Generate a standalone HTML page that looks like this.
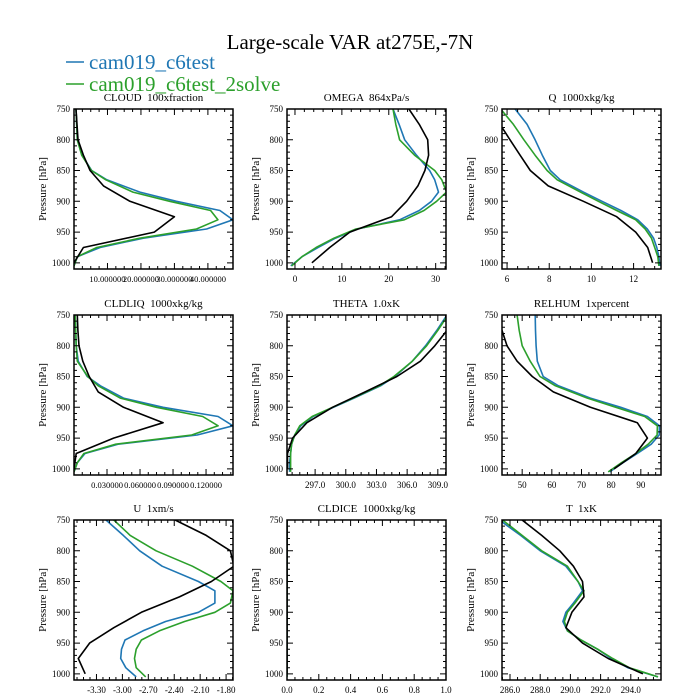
<!DOCTYPE html>
<html><head><meta charset="utf-8"><style>
html,body{margin:0;padding:0;background:#fff;}
svg{display:block;font-family:"Liberation Serif",serif;}
text{white-space:pre;}
</style></head><body>
<svg id="fig" width="700" height="700" viewBox="0 0 700 700" xmlns="http://www.w3.org/2000/svg">
<rect x="0" y="0" width="700" height="700" fill="#fff"/>
<text x="350" y="49" font-size="21" text-anchor="middle">Large-scale VAR at275E,-7N</text>
<g>
<line x1="66" y1="62" x2="84" y2="62" stroke="#1f77b4" stroke-width="1.5"/>
<text x="89" y="69" font-size="21" fill="#1f77b4">cam019_c6test</text>
<line x1="66" y1="84" x2="84" y2="84" stroke="#2ca02c" stroke-width="1.5"/>
<text x="89" y="91" font-size="21" fill="#2ca02c">cam019_c6test_2solve</text>
</g>
</svg>
<script>
const Pm = [750,775,800,825,850,865,885,900,915,930,945,960,975,990,1005];
const Po = [750,775,800,825,850,875,900,925,950,975,1000];

const cloudBlue = [0.6,0.8,1.0,2.4,5.3,9.8,19.7,30.6,43.6,47.5,39.6,20.7,7.8,1.0,0];
const cloudGreen = [0.6,0.8,1.0,2.3,5.2,9.5,17.6,28.6,40.8,43,36.6,19.7,6.8,1.0,0];
const cloudBlack = [0.6,0.9,1.2,2.8,4.8,8.8,16.7,30,24,2.8,0];

const omegaBlue = [20.9,22.2,23.4,25.9,28.7,29.8,30.6,29.1,26.5,22.3,13.3,8.6,4.9,1.5,-0.9];
const omegaGreen = [20.9,21.5,22.3,25.5,29.8,31.3,32.3,30.2,27.5,23.3,13,8.3,4.5,1.5,-0.7];
const omegaBlack = [24.3,26.5,28.3,28.5,27.7,26.2,23.8,20.6,11.7,7.4,3.6];

const qBlue = [6.38,6.95,7.33,7.67,8.05,8.52,9.62,10.5,11.4,12.2,12.65,12.95,13.1,13.2,13.25];
const qGreen = [5.7,6.3,6.8,7.33,7.9,8.38,9.48,10.33,11.2,12.1,12.55,12.85,13.0,13.15,13.2];
const qBlack = [5.2,5.67,6.14,6.62,7.1,7.95,9.62,11.2,12.1,12.67,12.9];

const liqBlue = [0.001,0.0015,0.002,0.0038,0.012,0.024,0.045,0.081,0.131,0.1445,0.112,0.04,0.01,0.003,0];
const liqGreen = [0.001,0.0015,0.002,0.003,0.0125,0.022,0.042,0.075,0.117,0.131,0.107,0.038,0.009,0.003,0];
const liqBlack = [0.003,0.0035,0.0045,0.008,0.0138,0.022,0.045,0.081,0.036,0.002,0];

const thetaBlue = [309.9,308.9,307.8,306.5,304.8,303.4,300.8,298.8,296.8,295.6,295,294.7,294.6,294.5,294.5];
const thetaGreen = [310,309,307.9,306.5,304.7,303.3,300.7,298.7,296.7,295.5,295,294.7,294.6,294.6,294.6];
const thetaBlack = [311,309.9,308.7,307.3,305,301.9,298.7,296.2,294.8,294.3,294.3];

const rhBlue = [54.4,54.5,54.7,55.1,57.1,62.2,73,83.2,92.2,96.3,96.2,93.5,88.8,84,79.5];
const rhGreen = [48.3,49,50,52.7,56,61.2,72,81.5,91.3,95.6,95.5,92.5,88.3,83.5,79];
const rhBlack = [40,43.2,44.9,48.3,53.4,60.5,73,88.8,92.2,88.3,81];

const uBlue = [-3.19,-2.99,-2.80,-2.54,-2.12,-1.93,-1.93,-2.12,-2.50,-2.76,-2.97,-3.01,-3.02,-2.96,-2.84];
const uGreen = [-3.10,-2.91,-2.61,-2.19,-1.86,-1.72,-1.75,-1.93,-2.28,-2.57,-2.78,-2.84,-2.86,-2.84,-2.73];
const uBlack = [-2.39,-2.03,-1.75,-1.71,-1.97,-2.34,-2.78,-3.10,-3.38,-3.51,-3.43];

const iceBlue = [0,0,0,0,0,0,0,0,0,0,0,0,0,0,0];
const iceGreen = [0,0,0,0,0,0,0,0,0,0,0,0,0,0,0];
const iceBlack = [0,0,0,0,0,0,0,0,0,0,0];

const tBlue = [285.3,286.7,288,289.7,290.5,290.8,290.2,289.7,289.5,289.8,290.7,291.8,292.7,293.8,295.8];
const tGreen = [285.5,286.8,288.1,289.8,290.5,290.9,290.3,289.8,289.6,289.8,290.7,291.8,292.8,293.9,295.8];
const tBlack = [286.8,288.1,289.3,290.2,290.8,290.9,290.1,289.7,290.8,292.5,294.8];

const cloudTicks = [10,20,30,40];
const cloudTickLabels = ["10.000000","20.000000","30.000000","40.000000"];
const omegaTicks = [0,10,20,30];
const omegaTickLabels = ["0","10","20","30"];
const qTicks = [6,8,10,12];
const qTickLabels = ["6","8","10","12"];
const liqTicks = [0.03,0.06,0.09,0.12];
const liqTickLabels = ["0.030000","0.060000","0.090000","0.120000"];
const thetaTicks = [297,300,303,306,309];
const thetaTickLabels = ["297.0","300.0","303.0","306.0","309.0"];
const rhTicks = [50,60,70,80,90];
const rhTickLabels = ["50","60","70","80","90"];
const uTicks = [-3.3,-3.0,-2.7,-2.4,-2.1,-1.8];
const uTickLabels = ["-3.30","-3.00","-2.70","-2.40","-2.10","-1.80"];
const iceTicks = [0,0.2,0.4,0.6,0.8,1.0];
const iceTickLabels = ["0.0","0.2","0.4","0.6","0.8","1.0"];
const tTicks = [286,288,290,292,294];
const tTickLabels = ["286.0","288.0","290.0","292.0","294.0"];
const pTicks = [750,800,850,900,950,1000];

const NS = "http://www.w3.org/2000/svg";
const svg = document.getElementById("fig");
function mk(tag, attrs, parent){
  const e = document.createElementNS(NS, tag);
  for (const k in attrs) e.setAttribute(k, attrs[k]);
  (parent||svg).appendChild(e);
  return e;
}
const colX = [74, 287, 502];
const rowY = [109, 315, 520];
const W = 159, H = 160;
const PMIN = 750, PMAX = 1010;

const panels = [
 {id:"cloud", title:"CLOUD  100xfraction", r:0, c:0, xmin:0, xmax:47.5, ticks:cloudTicks, labels:cloudTickLabels, minor:2.5, b:cloudBlue, g:cloudGreen, k:cloudBlack, fs:8.5},
 {id:"omega", title:"OMEGA  864xPa/s", r:0, c:1, xmin:-1.7, xmax:32.2, ticks:omegaTicks, labels:omegaTickLabels, minor:2, b:omegaBlue, g:omegaGreen, k:omegaBlack},
 {id:"q", title:"Q  1000xkg/kg", r:0, c:2, xmin:5.76, xmax:13.3, ticks:qTicks, labels:qTickLabels, minor:0.5, b:qBlue, g:qGreen, k:qBlack},
 {id:"cldliq", title:"CLDLIQ  1000xkg/kg", r:1, c:0, xmin:0, xmax:0.1445, ticks:liqTicks, labels:liqTickLabels, minor:0.0075, b:liqBlue, g:liqGreen, k:liqBlack, fs:8.5},
 {id:"theta", title:"THETA  1.0xK", r:1, c:1, xmin:294.25, xmax:309.8, ticks:thetaTicks, labels:thetaTickLabels, minor:0.75, b:thetaBlue, g:thetaGreen, k:thetaBlack},
 {id:"relhum", title:"RELHUM  1xpercent", r:1, c:2, xmin:43.2, xmax:96.8, ticks:rhTicks, labels:rhTickLabels, minor:2.5, b:rhBlue, g:rhGreen, k:rhBlack},
 {id:"u", title:"U  1xm/s", r:2, c:0, xmin:-3.56, xmax:-1.72, ticks:uTicks, labels:uTickLabels, minor:0.075, b:uBlue, g:uGreen, k:uBlack},
 {id:"cldice", title:"CLDICE  1000xkg/kg", r:2, c:1, xmin:0, xmax:1.0, ticks:iceTicks, labels:iceTickLabels, minor:0.05, b:iceBlue, g:iceGreen, k:iceBlack},
 {id:"t", title:"T  1xK", r:2, c:2, xmin:285.47, xmax:296, ticks:tTicks, labels:tTickLabels, minor:0.5, b:tBlue, g:tGreen, k:tBlack}
];

const defs = mk("defs", {});
panels.forEach(p => {
  const x0 = colX[p.c], y0 = rowY[p.r];
  const xs = v => x0 + (v - p.xmin) / (p.xmax - p.xmin) * W;
  const ys = v => y0 + (v - PMIN) / (PMAX - PMIN) * H;
  const g = mk("g", {});
  
  
  const cp = mk("clipPath", {id:"clip-"+p.id}, defs);
  mk("rect", {x:x0, y:y0, width:W, height:H}, cp);

  const t = mk("text", {x:x0+W/2, y:y0-8, "font-size":11, "text-anchor":"middle"}, g);
  t.textContent = p.title;
  
  

  const yl = mk("text", {x:0, y:0, "font-size":11, "text-anchor":"middle", transform:"translate("+(x0-28)+","+(y0+H/2)+") rotate(-90)"}, g);
  yl.textContent = "Pressure [hPa]";
  
  

  const series = [[p.b, Pm, "#1f77b4", "blue"], [p.g, Pm, "#2ca02c", "green"], [p.k, Po, "#000", "black"]];
  const lg = mk("g", {"clip-path":"url(#clip-"+p.id+")"}, g);
  series.forEach(s => {
    const pts = s[0].map((v,i) => xs(v).toFixed(1)+","+ys(s[1][i]).toFixed(1)).join(" ");
    const pl = mk("polyline", {points:pts, fill:"none", stroke:s[2], "stroke-width":1.6, "stroke-linejoin":"round"}, lg);
    
    
  });

  let d = "";
  for (let v = PMIN; v <= PMAX + 0.01; v += 10) {
    const y = ys(v), L = (v % 50 === 0) ? 6 : 3;
    d += "M"+x0+" "+y+"h"+L+"M"+(x0+W)+" "+y+"h"+(-L);
  }
  const start = Math.ceil(p.xmin / p.minor - 1e-6);
  for (let i = start; i * p.minor <= p.xmax + 1e-9; i++) {
    const v = i * p.minor, x = xs(v);
    const major = p.ticks.some(tv => Math.abs(tv - v) < p.minor/4);
    const L = major ? 6 : 3;
    d += "M"+x+" "+y0+"v"+L+"M"+x+" "+(y0+H)+"v"+(-L);
  }
  const tk = mk("path", {d:d, stroke:"#000", "stroke-width":1, fill:"none"}, g);
  
  

  const fr = mk("rect", {x:x0, y:y0, width:W, height:H, fill:"none", stroke:"#000", "stroke-width":1.5}, g);
  
  

  pTicks.forEach(v => {
    const tl = mk("text", {x:x0-4, y:ys(v)+3, "font-size":9, "text-anchor":"end"}, g);
    tl.textContent = String(v);
    
    
  });
  p.ticks.forEach((v,i) => {
    const tl = mk("text", {x:xs(v), y:y0+H+13, "font-size":(p.fs||9), "text-anchor":"middle"}, g);
    tl.textContent = p.labels[i];
    
    
  });
});
</script>
</body></html>
